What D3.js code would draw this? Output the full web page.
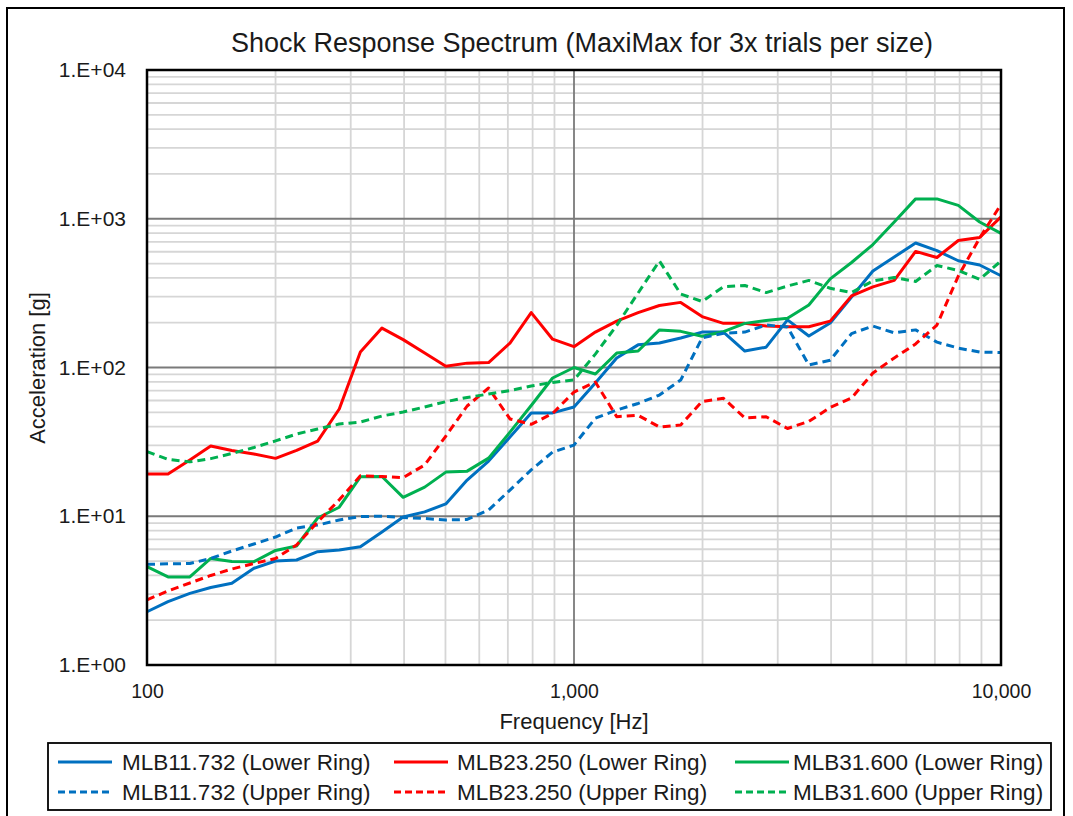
<!DOCTYPE html>
<html>
<head>
<meta charset="utf-8">
<script src="https://cdn.jsdelivr.net/npm/d3@7/dist/d3.min.js"></script>
<style>
  body { margin: 0; background: #fff; }
  text { font-family: "Liberation Sans", Arial, sans-serif; fill: #1a1a1a; }
</style>
</head>
<body>
<svg id="chart" width="1073" height="816"></svg>
<script>
// 1/20-decade analysis frequencies [Hz]
const frequencies = [100, 112, 126, 141, 158, 178, 200, 224, 251, 282, 316, 355, 398, 447, 501, 562, 631, 708, 794, 891,
  1000, 1122, 1259, 1413, 1585, 1778, 1995, 2239, 2512, 2818, 3162, 3548, 3981, 4467, 5012, 5623, 6310, 7079, 7943, 8913, 10000];

// MaxiMax SRS acceleration [g]
const mlb11Lower = [2.28, 2.67, 3.03, 3.32, 3.54, 4.47, 5.00, 5.08, 5.78, 5.93, 6.24, 7.84, 9.88, 10.7, 12.1, 17.5, 23.5, 34.1, 49.5, 49.5,
  54.3, 78.7, 116, 142, 146, 158, 173, 173, 129, 137, 209, 163, 199, 298, 445, 553, 687, 610, 522, 489, 414];
const mlb23Lower = [19.2, 19.2, 23.9, 29.7, 27.7, 26.2, 24.5, 27.7, 32.0, 52.6, 127, 184, 154, 125, 102, 107, 108, 146, 234, 155,
  138, 173, 205, 234, 261, 274, 220, 198, 198, 190, 188, 188, 205, 303, 348, 385, 603, 549, 714, 748, 1030];
const mlb31Lower = [4.58, 3.91, 3.91, 5.20, 4.96, 4.95, 5.89, 6.31, 9.73, 11.5, 18.4, 18.5, 13.4, 15.7, 19.8, 20.1, 24.6, 36.8, 55.5, 85.0,
  100, 90.4, 125, 129, 179, 175, 162, 174, 198, 207, 214, 263, 394, 508, 671, 951, 1360, 1360, 1230, 951, 798];
const mlb11Upper = [4.75, 4.79, 4.81, 5.20, 5.84, 6.51, 7.25, 8.34, 8.73, 9.44, 9.96, 10.0, 9.81, 9.66, 9.44, 9.51, 11.0, 15.0, 20.5, 27.0,
  30.1, 45.6, 51.8, 57.3, 65.3, 82.4, 158, 170, 173, 193, 187, 104, 112, 169, 190, 171, 179, 148, 135, 127, 126];
const mlb23Upper = [2.74, 3.15, 3.56, 4.00, 4.42, 4.81, 5.20, 6.41, 9.15, 12.9, 18.7, 18.5, 18.2, 22.1, 34.6, 55.1, 72.8, 45.1, 41.5, 49.1,
  68.4, 79.9, 46.7, 47.7, 39.8, 41.1, 59.1, 62.1, 45.8, 46.7, 38.9, 43.4, 53.8, 62.4, 91.8, 116, 144, 193, 412, 742, 1250];
const mlb31Upper = [27.2, 24.1, 23.2, 24.4, 26.4, 29.0, 32.1, 35.7, 38.6, 41.7, 43.0, 47.2, 50.2, 54.3, 58.9, 62.9, 66.3, 70.0, 75.1, 79.3,
  82.4, 123, 192, 317, 520, 312, 278, 349, 356, 319, 353, 385, 341, 319, 382, 403, 379, 485, 449, 391, 520];

const seriesNames = ["MLB11.732 (Lower Ring)", "MLB23.250 (Lower Ring)", "MLB31.600 (Lower Ring)",
  "MLB11.732 (Upper Ring)", "MLB23.250 (Upper Ring)", "MLB31.600 (Upper Ring)"];
const seriesValues = [mlb11Lower, mlb23Lower, mlb31Lower, mlb11Upper, mlb23Upper, mlb31Upper];
const seriesColors = ["#0070c0", "#ff0000", "#00b050", "#0070c0", "#ff0000", "#00b050"];
const seriesDashed = [false, false, false, true, true, true];

const xTicks = [100, 1000, 10000];
const yTicks = [1, 10, 100, 1000, 10000];

const svg = d3.select("#chart");
const W = 1073, H = 816;
const plot = { left: 147, right: 1001, top: 70, bottom: 665 };

// outer chart frame
svg.append("rect").attr("x", 7).attr("y", 8).attr("width", 1057).attr("height", 812)
  .attr("fill", "#fff").attr("stroke", "#000").attr("stroke-width", 2);

const x = d3.scaleLog().domain([100, 10000]).range([plot.left, plot.right]);
const y = d3.scaleLog().domain([1, 10000]).range([plot.bottom, plot.top]);

// grid: minor lines then decade lines
const minorX = [], minorY = [];
[100, 1000].forEach(d => { for (let m = 2; m <= 9; m++) minorX.push(d * m); });
[1, 10, 100, 1000].forEach(d => { for (let m = 2; m <= 9; m++) minorY.push(d * m); });

const grid = svg.append("g");
grid.selectAll(".vminor").data(minorX).join("line")
  .attr("x1", d => x(d)).attr("x2", d => x(d)).attr("y1", plot.top).attr("y2", plot.bottom)
  .attr("stroke", "#d6d6d6").attr("stroke-width", 1.8);
grid.selectAll(".hminor").data(minorY).join("line")
  .attr("x1", plot.left).attr("x2", plot.right).attr("y1", d => y(d)).attr("y2", d => y(d))
  .attr("stroke", "#d6d6d6").attr("stroke-width", 1.8);
grid.selectAll(".vmajor").data(xTicks).join("line")
  .attr("x1", d => x(d)).attr("x2", d => x(d)).attr("y1", plot.top).attr("y2", plot.bottom)
  .attr("stroke", "#7a7a7a").attr("stroke-width", 1.8);
grid.selectAll(".hmajor").data(yTicks).join("line")
  .attr("x1", plot.left).attr("x2", plot.right).attr("y1", d => y(d)).attr("y2", d => y(d))
  .attr("stroke", "#7a7a7a").attr("stroke-width", 1.8);

// series
const line = d3.line().x((d, i) => x(frequencies[i])).y(d => y(d));
const lines = svg.append("g");
seriesValues.forEach((vals, i) => {
  lines.append("path").datum(vals)
    .attr("d", line)
    .attr("fill", "none")
    .attr("stroke", seriesColors[i])
    .attr("stroke-width", 3)
    .attr("stroke-linejoin", "round")
    .attr("stroke-dasharray", seriesDashed[i] ? "8,5" : null);
});

// plot frame
svg.append("rect").attr("x", plot.left).attr("y", plot.top)
  .attr("width", plot.right - plot.left).attr("height", plot.bottom - plot.top)
  .attr("fill", "none").attr("stroke", "#000").attr("stroke-width", 2.5);

// axes
const yAxis = d3.axisLeft(y).tickValues(yTicks).tickSize(0).tickPadding(21)
  .tickFormat(d => "1.E+" + String(Math.round(Math.log10(d))).padStart(2, "0"));
const gy = svg.append("g").attr("transform", `translate(${plot.left},0)`).call(yAxis);
gy.select(".domain").remove();
gy.selectAll("text").attr("font-size", 21).attr("font-family", "Liberation Sans, Arial, sans-serif").attr("fill", "#1a1a1a");

const xAxis = d3.axisBottom(x).tickValues(xTicks).tickSize(0).tickPadding(19)
  .tickFormat(d3.format(","));
const gx = svg.append("g").attr("transform", `translate(0,${plot.bottom})`).call(xAxis);
gx.select(".domain").remove();
gx.selectAll("text").attr("font-size", 19.5).attr("font-family", "Liberation Sans, Arial, sans-serif").attr("fill", "#1a1a1a");

// titles
svg.append("text").attr("x", 582).attr("y", 52).attr("text-anchor", "middle")
  .attr("font-size", 27).text("Shock Response Spectrum (MaxiMax for 3x trials per size)");
svg.append("text").attr("x", 574).attr("y", 729).attr("text-anchor", "middle")
  .attr("font-size", 22).text("Frequency [Hz]");
svg.append("text").attr("transform", "translate(45,368) rotate(-90)").attr("text-anchor", "middle")
  .attr("font-size", 22).text("Acceleration [g]");

// legend
const legend = svg.append("g");
legend.append("rect").attr("x", 48).attr("y", 743).attr("width", 1003).attr("height", 67)
  .attr("fill", "#fff").attr("stroke", "#000").attr("stroke-width", 1.8);
const colLine = [58, 394, 735];
const colText = [122, 457, 793];
const rowY = [762, 792];
seriesNames.forEach((name, i) => {
  const c = i % 3, r = Math.floor(i / 3);
  legend.append("line").attr("x1", colLine[c]).attr("x2", colLine[c] + 54)
    .attr("y1", rowY[r]).attr("y2", rowY[r])
    .attr("stroke", seriesColors[i]).attr("stroke-width", 3)
    .attr("stroke-dasharray", seriesDashed[i] ? "7,4" : null);
  legend.append("text").attr("x", colText[c]).attr("y", rowY[r] + 8)
    .attr("font-size", 22.5).text(name);
});
</script>
</body>
</html>
